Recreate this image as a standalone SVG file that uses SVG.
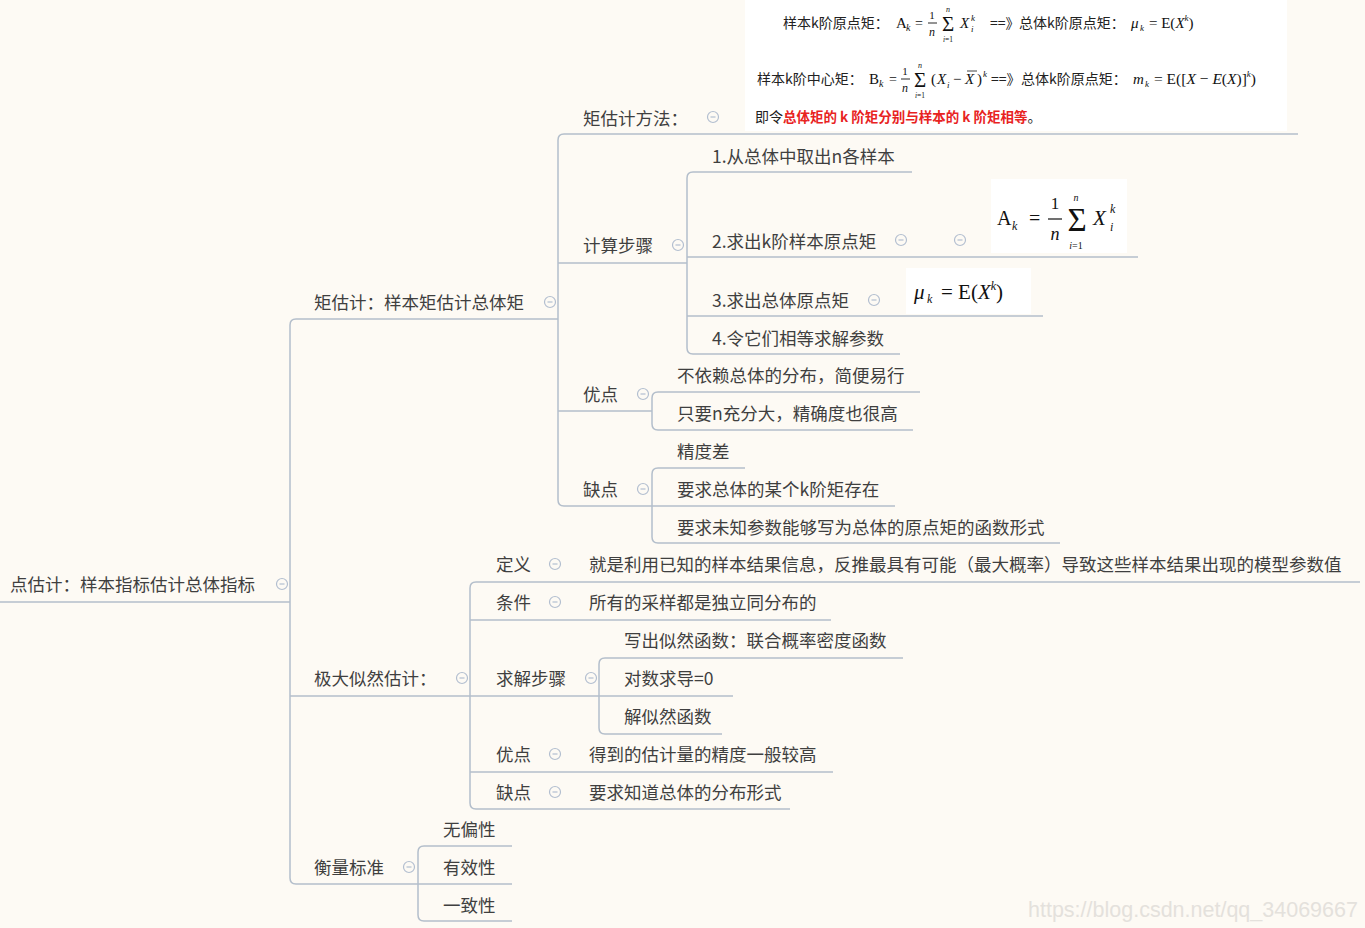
<svg xmlns="http://www.w3.org/2000/svg" xmlns:xlink="http://www.w3.org/1999/xlink" width="1365" height="928" viewBox="0 0 1365 928">
<style>
.t{font-family:"Noto Sans CJK SC","Microsoft YaHei",sans-serif;font-size:17.5px;fill:#3f3f3f}
.ln{stroke:#b3becb;stroke-width:1.5;fill:none}
.ic{fill:#fdfaf4;stroke:#b3bfd0;stroke-width:1.2}
.m{font-family:"Liberation Serif",serif;fill:#111}
.i{font-style:italic}
.fc{font-family:"Noto Sans CJK SC",sans-serif;font-size:14px;fill:#222}
.wm{font-family:"Liberation Sans",Arial,sans-serif;font-size:21.5px;fill:#e4e1dc}
</style>
<defs>
<g id="minus"><circle class="ic" cx="0" cy="0" r="5.5"/><line class="ic" x1="-2.5" y1="0" x2="2.5" y2="0"/></g>
</defs>
<rect x="0" y="0" width="1365" height="928" fill="#fdfaf4"/>

<!-- formula box at top -->
<g id="formula-top">
<rect x="745" y="0" width="542" height="131" fill="#ffffff"/>
<text class="fc" x="783" y="28">样本k阶原点矩：</text>
<text class="m" x="896" y="28" font-size="15">A</text>
<text class="m i" x="906" y="31" font-size="10">k</text>
<text class="m" x="915" y="28" font-size="14">=</text>
<text class="m" x="932" y="19" font-size="11" text-anchor="middle">1</text>
<line x1="928" y1="23" x2="937" y2="23" stroke="#111" stroke-width="0.9"/>
<text class="m i" x="932" y="36" font-size="12" text-anchor="middle">n</text>
<text class="m" x="948" y="31" font-size="21" text-anchor="middle">Σ</text>
<text class="m i" x="948" y="12" font-size="8" text-anchor="middle">n</text>
<text class="m" x="948" y="42" font-size="7.5" text-anchor="middle"><tspan class="i">i</tspan>=1</text>
<text class="m i" x="960" y="28" font-size="15">X</text>
<text class="m i" x="971" y="21" font-size="9">k</text>
<text class="m i" x="971" y="32" font-size="9">i</text>
<text class="fc" x="990" y="28" font-size="11.5">==》</text>
<text class="fc" x="1019" y="28">总体k阶原点矩：</text>
<text class="m i" x="1131" y="28" font-size="15">μ</text>
<text class="m i" x="1140" y="31" font-size="9">k</text>
<text class="m" x="1149" y="28" font-size="15">= E(<tspan class="i">X</tspan><tspan dy="-7" font-size="9" class="i">k</tspan><tspan dy="7">)</tspan></text>

<text class="fc" x="757" y="84">样本k阶中心矩：</text>
<text class="m" x="869" y="84" font-size="15">B</text>
<text class="m i" x="879" y="87" font-size="10">k</text>
<text class="m" x="889" y="84" font-size="14">=</text>
<text class="m" x="905" y="75" font-size="11" text-anchor="middle">1</text>
<line x1="901" y1="79" x2="910" y2="79" stroke="#111" stroke-width="0.9"/>
<text class="m i" x="905" y="92" font-size="12" text-anchor="middle">n</text>
<text class="m" x="920" y="87" font-size="21" text-anchor="middle">Σ</text>
<text class="m i" x="920" y="68" font-size="8" text-anchor="middle">n</text>
<text class="m" x="920" y="98" font-size="7.5" text-anchor="middle"><tspan class="i">i</tspan>=1</text>
<text class="m" x="931" y="84" font-size="15">(</text>
<text class="m i" x="937" y="84" font-size="15">X</text>
<text class="m i" x="947" y="88" font-size="9">i</text>
<text class="m" x="953" y="84" font-size="15">−</text>
<text class="m i" x="965" y="84" font-size="15">X</text>
<line x1="967" y1="71" x2="977" y2="71" stroke="#111" stroke-width="0.8"/>
<text class="m" x="977" y="84" font-size="15">)</text>
<text class="m i" x="983" y="77" font-size="9">k</text>
<text class="fc" x="991" y="84" font-size="11.5">==》</text>
<text class="fc" x="1021" y="84">总体k阶原点矩：</text>
<text class="m i" x="1133" y="84" font-size="15">m</text>
<text class="m i" x="1145" y="87" font-size="9">k</text>
<text class="m" x="1154" y="84" font-size="15.5">= E([<tspan class="i">X</tspan> − <tspan class="i">E</tspan>(<tspan class="i">X</tspan>)]<tspan dy="-7" font-size="9" class="i">k</tspan><tspan dy="7">)</tspan></text>

<text class="fc" x="755" y="122" font-size="13">即令<tspan fill="#e8231f" font-weight="bold" font-size="13.5">总体矩的 k 阶矩分别与样本的 k 阶矩相等</tspan>。</text>
</g>

<!-- formula A_k -->
<g id="formula-ak">
<rect x="991" y="179" width="136" height="74" fill="#ffffff"/>
<text class="m" x="997" y="225" font-size="20">A</text>
<text class="m i" x="1012" y="230" font-size="12">k</text>
<text class="m" x="1029" y="225" font-size="20">=</text>
<text class="m" x="1055" y="209" font-size="17" text-anchor="middle">1</text>
<line x1="1048" y1="219" x2="1062" y2="219" stroke="#111" stroke-width="1.2"/>
<text class="m i" x="1055" y="240" font-size="18" text-anchor="middle">n</text>
<text class="m" x="1077" y="231" font-size="33" text-anchor="middle">Σ</text>
<text class="m i" x="1076" y="201" font-size="10" text-anchor="middle">n</text>
<text class="m" x="1076" y="249" font-size="10" text-anchor="middle"><tspan class="i">i</tspan>=1</text>
<text class="m i" x="1093" y="225" font-size="21">X</text>
<text class="m i" x="1110" y="213" font-size="12">k</text>
<text class="m i" x="1110" y="231" font-size="12">i</text>
</g>

<!-- formula mu_k -->
<g id="formula-mu">
<rect x="906" y="268" width="125" height="46" fill="#ffffff"/>
<text class="m i" x="914" y="299" font-size="21">μ</text>
<text class="m i" x="927" y="303" font-size="12">k</text>
<text class="m" x="941" y="299" font-size="21">= E(<tspan class="i">X</tspan><tspan dy="-9" font-size="12" class="i">k</tspan><tspan dy="9">)</tspan></text>
</g>

<!-- connectors -->
<g id="connectors">
<line class="ln" x1="0" y1="602" x2="290" y2="602"/>
<path class="ln" d="M296,319 Q290,319 290,325 L290,878 Q290,884 296,884"/>
<line class="ln" x1="296" y1="319" x2="558" y2="319"/>
<line class="ln" x1="290" y1="696" x2="733" y2="696"/>
<line class="ln" x1="296" y1="884" x2="512" y2="884"/>

<path class="ln" d="M564,134 Q558,134 558,140 L558,500 Q558,506 564,506"/>
<line class="ln" x1="564" y1="134" x2="1298" y2="134"/>
<line class="ln" x1="558" y1="263" x2="687" y2="263"/>
<line class="ln" x1="558" y1="411" x2="652" y2="411"/>
<line class="ln" x1="564" y1="506" x2="895" y2="506"/>

<path class="ln" d="M693,172 Q687,172 687,178 L687,348 Q687,354 693,354"/>
<line class="ln" x1="693" y1="172" x2="912" y2="172"/>
<line class="ln" x1="687" y1="257" x2="1138" y2="257"/>
<line class="ln" x1="687" y1="316" x2="1043" y2="316"/>
<line class="ln" x1="693" y1="354" x2="900" y2="354"/>

<path class="ln" d="M658,392 Q652,392 652,398 L652,424 Q652,430 658,430"/>
<line class="ln" x1="658" y1="392" x2="920" y2="392"/>
<line class="ln" x1="658" y1="430" x2="913" y2="430"/>

<path class="ln" d="M658,468 Q652,468 652,474 L652,537 Q652,543 658,543"/>
<line class="ln" x1="658" y1="468" x2="745" y2="468"/>
<line class="ln" x1="658" y1="543" x2="1060" y2="543"/>

<path class="ln" d="M476,582 Q470,582 470,588 L470,803 Q470,809 476,809"/>
<line class="ln" x1="476" y1="582" x2="1360" y2="582"/>
<line class="ln" x1="470" y1="620" x2="831" y2="620"/>
<line class="ln" x1="470" y1="772" x2="833" y2="772"/>
<line class="ln" x1="476" y1="809" x2="790" y2="809"/>

<path class="ln" d="M605,658 Q599,658 599,664 L599,728 Q599,734 605,734"/>
<line class="ln" x1="605" y1="658" x2="903" y2="658"/>
<line class="ln" x1="605" y1="734" x2="722" y2="734"/>

<path class="ln" d="M424,846 Q418,846 418,852 L418,915 Q418,921 424,921"/>
<line class="ln" x1="424" y1="846" x2="512" y2="846"/>
<line class="ln" x1="424" y1="921" x2="512" y2="921"/>
</g>

<!-- nodes -->
<g id="n-root"><text class="t" x="10" y="591">点估计：样本指标估计总体指标</text><use xlink:href="#minus" x="282" y="584"/></g>

<g id="n-moment"><text class="t" x="314" y="309">矩估计：样本矩估计总体矩</text><use xlink:href="#minus" x="550" y="302"/></g>
<g id="n-method"><text class="t" x="583" y="125">矩估计方法：</text><use xlink:href="#minus" x="713" y="117"/></g>
<g id="n-steps"><text class="t" x="583" y="252">计算步骤</text><use xlink:href="#minus" x="678" y="245"/></g>
<g id="n-step1"><text class="t" x="712" y="163">1.从总体中取出n各样本</text></g>
<g id="n-step2"><text class="t" x="712" y="248">2.求出k阶样本原点矩</text><use xlink:href="#minus" x="901" y="240"/><use xlink:href="#minus" x="960" y="240"/></g>
<g id="n-step3"><text class="t" x="712" y="307">3.求出总体原点矩</text><use xlink:href="#minus" x="874" y="300"/></g>
<g id="n-step4"><text class="t" x="712" y="345">4.令它们相等求解参数</text></g>
<g id="n-pro1"><text class="t" x="583" y="401">优点</text><use xlink:href="#minus" x="643" y="394"/></g>
<g id="n-pro1a"><text class="t" x="677" y="382">不依赖总体的分布，简便易行</text></g>
<g id="n-pro1b"><text class="t" x="677" y="420">只要n充分大，精确度也很高</text></g>
<g id="n-con1"><text class="t" x="583" y="496">缺点</text><use xlink:href="#minus" x="643" y="489"/></g>
<g id="n-con1a"><text class="t" x="677" y="458">精度差</text></g>
<g id="n-con1b"><text class="t" x="677" y="496">要求总体的某个k阶矩存在</text></g>
<g id="n-con1c"><text class="t" x="677" y="534">要求未知参数能够写为总体的原点矩的函数形式</text></g>

<g id="n-mle"><text class="t" x="314" y="685">极大似然估计：</text><use xlink:href="#minus" x="462" y="678"/></g>
<g id="n-def"><text class="t" x="496" y="571">定义</text><use xlink:href="#minus" x="555" y="564"/></g>
<g id="n-def-a"><text class="t" x="589" y="571">就是利用已知的样本结果信息，反推最具有可能（最大概率）导致这些样本结果出现的模型参数值</text></g>
<g id="n-cond"><text class="t" x="496" y="609">条件</text><use xlink:href="#minus" x="555" y="602"/></g>
<g id="n-cond-a"><text class="t" x="589" y="609">所有的采样都是独立同分布的</text></g>
<g id="n-solve"><text class="t" x="496" y="685">求解步骤</text><use xlink:href="#minus" x="591" y="678"/></g>
<g id="n-solve1"><text class="t" x="624" y="647">写出似然函数：联合概率密度函数</text></g>
<g id="n-solve2"><text class="t" x="624" y="685">对数求导=0</text></g>
<g id="n-solve3"><text class="t" x="624" y="723">解似然函数</text></g>
<g id="n-pro2"><text class="t" x="496" y="761">优点</text><use xlink:href="#minus" x="555" y="754"/></g>
<g id="n-pro2a"><text class="t" x="589" y="761">得到的估计量的精度一般较高</text></g>
<g id="n-con2"><text class="t" x="496" y="799">缺点</text><use xlink:href="#minus" x="555" y="792"/></g>
<g id="n-con2a"><text class="t" x="589" y="799">要求知道总体的分布形式</text></g>

<g id="n-crit"><text class="t" x="314" y="874">衡量标准</text><use xlink:href="#minus" x="409" y="867"/></g>
<g id="n-crit1"><text class="t" x="443" y="836">无偏性</text></g>
<g id="n-crit2"><text class="t" x="443" y="874">有效性</text></g>
<g id="n-crit3"><text class="t" x="443" y="912">一致性</text></g>

<text class="wm" x="1028" y="917">https://blog.csdn.net/qq_34069667</text>
</svg>
